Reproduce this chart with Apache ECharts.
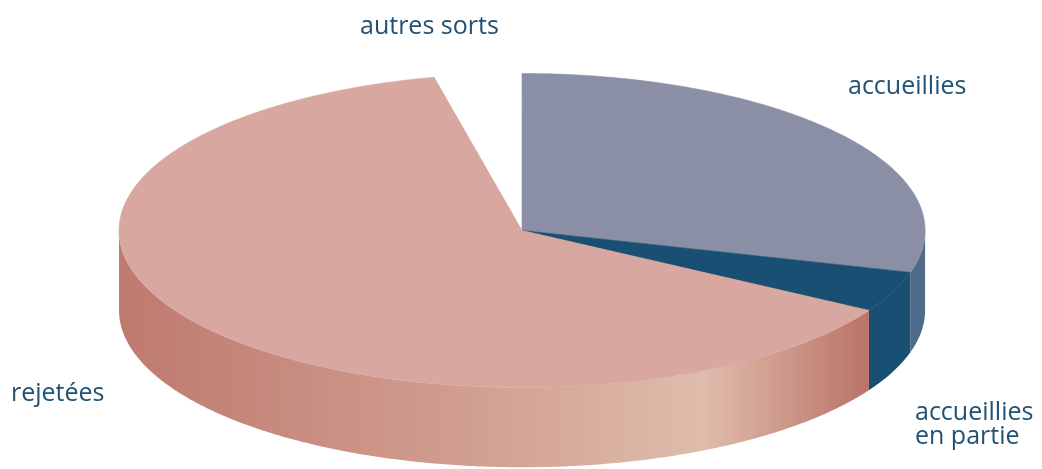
<!DOCTYPE html>
<html>
<head>
<meta charset="utf-8">
<script src="https://cdn.jsdelivr.net/npm/echarts@6/dist/echarts.min.js"></script>
<style>
html,body{margin:0;padding:0;background:#fff;}
#chart{width:1042px;height:469px;}
</style>
</head>
<body>
<div id="chart"></div>
<script>
// Data (shares in %, clockwise from 12 o'clock)
const categories = ['accueillies', 'accueillies en partie', 'rejetées', 'autres sorts'];
const values = [29.3, 4.2, 63.0, 3.5];
const labelTexts = ['accueillies', 'accueillies\nen partie', 'rejetées', 'autres sorts'];

const topColors = ['#8a8fa5', '#184f72', '#d8a7a0', null];
const wallColors = [
  '#4f6b8b',
  '#184f72',
  { type: 'linear', x: 0, y: 0, x2: 1, y2: 0, colorStops: [
    { offset: 0, color: '#bf7a6f' },
    { offset: 0.45, color: '#d09d8f' },
    { offset: 0.78, color: '#dfbcac' },
    { offset: 1, color: '#ba7367' }
  ] },
  null
];

const total = values.reduce((a, b) => a + b, 0);
const cum = [0];
values.forEach((v, i) => cum.push(cum[i] + v));

function renderItem(params, api) {
  const i = params.dataIndex;
  const W = api.getWidth(), H = api.getHeight();
  const cx = W * 0.501, cy = H * 0.4915;
  const rx = W * 0.3868, ry = H * 0.3348, depth = H * 0.17;
  const start = cum[i] / total * 360;
  const end = (cum[i] + api.value(0)) / total * 360;
  const pt = (deg, dy) => {
    const r = deg * Math.PI / 180;
    return [cx + rx * Math.sin(r), cy - ry * Math.cos(r) + (dy || 0)];
  };
  const arc = (a, b, dy) => {
    const pts = [];
    const n = Math.max(2, Math.ceil((b - a) / 0.5));
    for (let k = 0; k <= n; k++) pts.push(pt(a + (b - a) * k / n, dy));
    return pts;
  };
  const children = [];
  if (topColors[i]) {
    const pts = [[cx, cy]].concat(arc(start, end, 0));
    children.push({
      type: 'polygon', z2: 10,
      shape: { points: pts },
      style: { fill: topColors[i], stroke: topColors[i], lineWidth: 0.6 }
    });
  }
  const a = Math.max(start, 90), b = Math.min(end, 270);
  if (wallColors[i] && a < b) {
    const pts = arc(a, b, 0).concat(arc(a, b, depth).reverse());
    children.push({
      type: 'polygon', z2: 1,
      shape: { points: pts },
      style: { fill: wallColors[i] }
    });
  }
  return { type: 'group', children: children };
}

const chart = echarts.init(document.getElementById('chart'), null, { renderer: 'canvas' });
const txt = (text, x, y, extra) => ({
  type: 'text', x: x, y: y,
  style: Object.assign({
    text: text, fill: '#215273',
    font: '25px "Open Sans", sans-serif',
    align: 'left', verticalAlign: 'middle'
  }, extra || {})
});
chart.setOption({
  animation: false,
  backgroundColor: '#ffffff',
  series: [{
    type: 'custom',
    coordinateSystem: 'none',
    renderItem: renderItem,
    data: values.map((v, i) => ({ name: categories[i], value: [v] }))
  }],
  graphic: [
    txt(labelTexts[3], 360, 27),
    txt(labelTexts[0], 848, 87),
    txt(labelTexts[1], 915, 425, { lineHeight: 24 }),
    txt(labelTexts[2], 11, 394)
  ]
});
</script>
</body>
</html>
